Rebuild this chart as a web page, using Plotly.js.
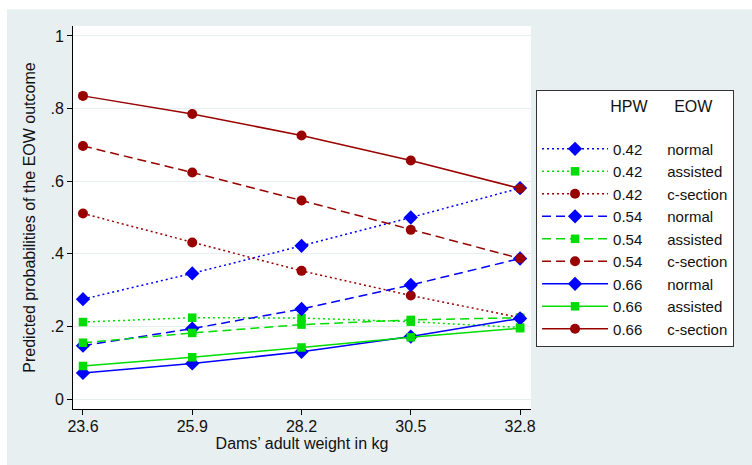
<!DOCTYPE html>
<html>
<head>
<meta charset="utf-8">
<script src="https://cdn.plot.ly/plotly-3.0.1.min.js"></script>
<style>html,body{margin:0;padding:0;background:#fff}#chart{width:752px;height:465px}</style>
</head>
<body>
<div id="chart"></div>
<script>
// Dams' adult weight (kg)
var weights = [23.6, 25.9, 28.2, 30.5, 32.8];
var xTickLabels = ['23.6', '25.9', '28.2', '30.5', '32.8'];
var yTickVals = [0, 0.2, 0.4, 0.6, 0.8, 1];
var yTickLabels = ['0', '.2', '.4', '.6', '.8', '1'];

// HPW levels and EOW outcomes (legend columns)
var hpwLevels = ['0.42', '0.54', '0.66'];
var eowOutcomes = ['normal', 'assisted', 'c-section'];

// Predicted probabilities
var hpw042_normal   = [0.275, 0.346, 0.422, 0.500, 0.581];
var hpw042_assisted = [0.212, 0.224, 0.223, 0.213, 0.197];
var hpw042_csection = [0.511, 0.431, 0.353, 0.285, 0.224];
var hpw054_normal   = [0.147, 0.194, 0.248, 0.314, 0.387];
var hpw054_assisted = [0.155, 0.182, 0.205, 0.218, 0.224];
var hpw054_csection = [0.697, 0.624, 0.547, 0.466, 0.387];
var hpw066_normal   = [0.072, 0.098, 0.130, 0.172, 0.222];
var hpw066_assisted = [0.091, 0.115, 0.142, 0.170, 0.195];
var hpw066_csection = [0.835, 0.785, 0.726, 0.657, 0.580];

var seriesByHpw = [
  [hpw042_normal, hpw042_assisted, hpw042_csection],
  [hpw054_normal, hpw054_assisted, hpw054_csection],
  [hpw066_normal, hpw066_assisted, hpw066_csection]
];

var eowColors = ['#0000ff', '#00dd00', '#990000'];
var eowSymbols = ['diamond', 'square', 'circle'];
var eowSizes = [11, 8.5, 10];
var hpwDashes = ['2px,3px', '9px,5px', 'solid'];

var NB = '\u00a0';
function pad(n){ return NB.repeat(n); }

var traces = [];
for (var h = 0; h < hpwLevels.length; h++) {
  for (var e = 0; e < eowOutcomes.length; e++) {
    traces.push({
      type: 'scatter',
      mode: 'lines+markers',
      x: weights,
      y: seriesByHpw[h][e],
      name: hpwLevels[h] + pad(6) + eowOutcomes[e],
      line: {color: eowColors[e], width: 1.5, dash: hpwDashes[h]},
      marker: {color: eowColors[e], symbol: eowSymbols[e], size: eowSizes[e], line: {width: 0}},
      hoverinfo: 'x+y+name'
    });
  }
}

var fontFam = '"Liberation Sans", Arial, sans-serif';

var layout = {
  width: 752, height: 465,
  margin: {l: 73, r: 221, t: 26, b: 56, pad: 0},
  paper_bgcolor: '#ffffff',
  plot_bgcolor: 'rgba(0,0,0,0)',
  font: {family: fontFam, size: 16, color: '#111111'},
  showlegend: true,
  legend: {
    x: 1.011, y: 0.833, xanchor: 'left', yanchor: 'top',
    bgcolor: '#ffffff', bordercolor: '#333333', borderwidth: 1,
    font: {family: fontFam, size: 15, color: '#111111'},
    title: {text: pad(16) + 'HPW' + pad(6) + 'EOW' + pad(3) + '<br>' + NB, font: {family: fontFam, size: 16, color: '#111111'}},
    itemwidth: 66,
    tracegroupgap: 0
  },
  xaxis: {
    range: [23.39, 33.03],
    tickmode: 'array', tickvals: weights, ticktext: xTickLabels,
    ticks: 'outside', ticklen: 5, tickwidth: 1, tickcolor: '#000',
    showline: true, linecolor: '#000', linewidth: 1,
    showgrid: false, zeroline: false,
    ticklabelstandoff: -2,
    title: {text: 'Dams\u2019 adult weight in kg', font: {size: 16}, standoff: 2},
    tickfont: {size: 16}
  },
  yaxis: {
    range: [-0.0275, 1.0275],
    tickmode: 'array', tickvals: yTickVals, ticktext: yTickLabels,
    ticks: 'outside', ticklen: 5, tickwidth: 1, tickcolor: '#000',
    showline: true, linecolor: '#000', linewidth: 1,
    showgrid: true, gridcolor: '#e6eef0', gridwidth: 1,
    zeroline: false,
    title: {text: 'Predicted probabilities of the EOW outcome', font: {size: 16}, standoff: 10},
    tickfont: {size: 16}
  },
  shapes: [
    {type: 'rect', xref: 'paper', yref: 'paper', x0: -0.144, x1: 1.5, y0: -0.2, y1: 1.044,
     fillcolor: '#e8eff1', line: {width: 0}, layer: 'below'},
    {type: 'rect', xref: 'paper', yref: 'paper', x0: 0, x1: 1, y0: 0, y1: 1,
     fillcolor: '#ffffff', line: {width: 0}, layer: 'below'}
  ]
};

Plotly.newPlot('chart', traces, layout, {displayModeBar: false, staticPlot: true});
</script>
</body>
</html>
